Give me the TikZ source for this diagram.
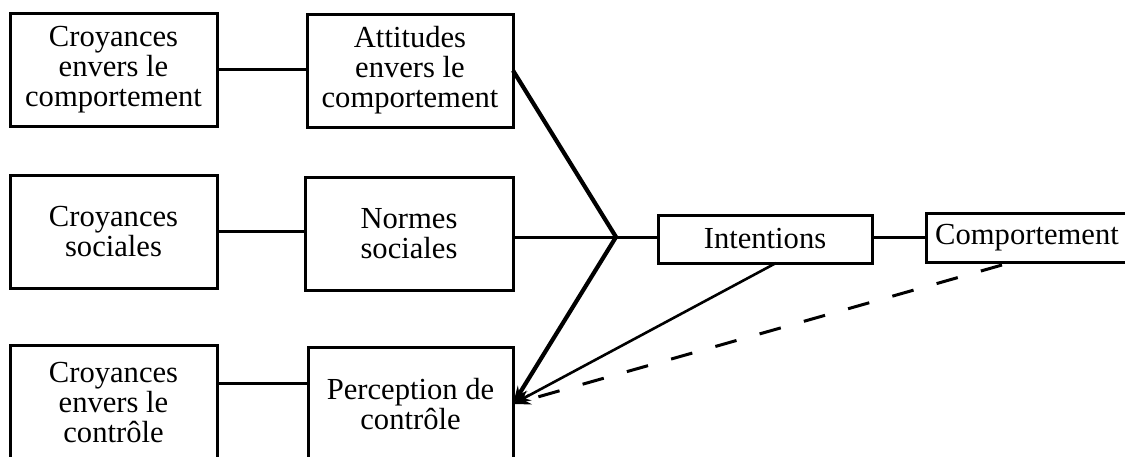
\documentclass[tikz,border=0pt]{standalone}
\usepackage{fontspec}
\setmainfont{Liberation Serif}
\usetikzlibrary{arrows.meta,calc}
\begin{document}
\begin{tikzpicture}[x=1pt,y=-1pt,
  box/.style={draw, line width=3pt, inner sep=0pt, outer sep=0pt, align=center,
              font=\fontsize{30.6}{30}\selectfont},
  link/.style={line width=3pt},
  heavylink/.style={line width=4.2pt},
  lightlink/.style={line width=2.6pt},
  tip/.style={-{Stealth[length=18pt,width=11pt]}}]
\clip (0,0) rectangle (1125,456);
\fill[white] (0,0) rectangle (1125,456);

\node[box, minimum width=207pt, minimum height=113pt] (b1) at (113.5,69.5) {Croyances\\envers le\\comportement};
\node[box, minimum width=206pt, minimum height=113pt] (b2) at (410,70.5) {Attitudes\\envers le\\comportement};
\node[box, minimum width=207pt, minimum height=113pt] (b3) at (113.5,231.5) {Croyances\\sociales};
\node[box, minimum width=208pt, minimum height=113pt] (b4) at (409,233.5) {Normes\\sociales};
\node[box, minimum width=207pt, minimum height=115pt] (b5) at (113.5,402.5) {Croyances\\envers le\\contr\^ole};
\node[box, minimum width=205pt, minimum height=114pt] (b6) at (410.5,404) {Perception de\\contr\^ole};
\node[box, minimum width=214pt, minimum height=48pt] (int) at (765,239) {Intentions};
\node[box, minimum width=202pt, minimum height=49pt] (cmp) at (1027,237.5) {Comportement};

\coordinate (J) at (616,237);
\coordinate (m3) at (0,383);
\coordinate (ib) at ($(int.south)+(11,0)$);
\coordinate (cb) at ($(cmp.south)+(-25,3)$);

\draw[link] (b1.east) -- (b1.east -| b2.west);
\draw[link] (b3.east) -- (b3.east -| b4.west);
\draw[link] (b5.east |- m3) -- (b6.west |- m3);
\draw[heavylink, line join=miter] (b2.east) -- (J);
\draw[link] (b4.east |- J) -- (J) -- (int.west |- J);
\draw[heavylink, tip] (J) -- (b6.east);
\draw[link] (int.east |- J) -- (cmp.west |- J);
\draw[lightlink, tip] (ib) -- (b6.east);
\draw[link, dash pattern=on 22pt off 24pt, tip] (cb) -- (b6.east);
\end{tikzpicture}
\end{document}
